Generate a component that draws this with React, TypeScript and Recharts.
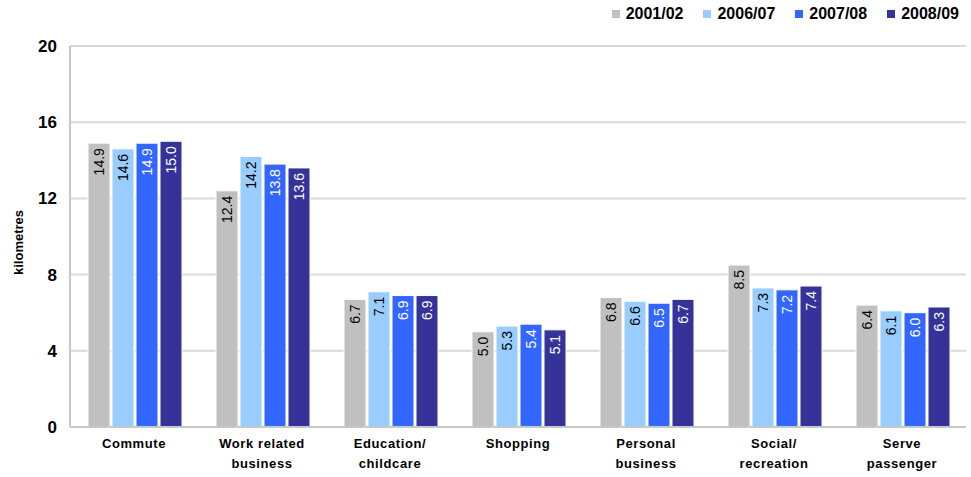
import React from "react";
import {
  Bar,
  BarChart,
  CartesianGrid,
  LabelList,
  Legend,
  XAxis,
  YAxis,
} from "recharts";

const categories = [
  "Commute",
  "Work related\nbusiness",
  "Education/\nchildcare",
  "Shopping",
  "Personal\nbusiness",
  "Social/\nrecreation",
  "Serve\npassenger",
];

const y2001 = [14.9, 12.4, 6.7, 5.0, 6.8, 8.5, 6.4];
const y2006 = [14.6, 14.2, 7.1, 5.3, 6.6, 7.3, 6.1];
const y2007 = [14.9, 13.8, 6.9, 5.4, 6.5, 7.2, 6.0];
const y2008 = [15.0, 13.6, 6.9, 5.1, 6.7, 7.4, 6.3];

const yTicks = [0, 4, 8, 12, 16, 20];

const series = [
  { key: "y2001", name: "2001/02", color: "#C0C0C0", text: "#000" },
  { key: "y2006", name: "2006/07", color: "#99CCFF", text: "#000" },
  { key: "y2007", name: "2007/08", color: "#3366FF", text: "#fff" },
  { key: "y2008", name: "2008/09", color: "#333399", text: "#fff" },
];

const data = categories.map((c, i) => ({
  category: c,
  y2001: y2001[i],
  y2006: y2006[i],
  y2007: y2007[i],
  y2008: y2008[i],
}));

const FONT = "'Liberation Sans', Arial, sans-serif";

// rotated value label just inside the top of the bar
const makeLabel = (fill: string) => (props: any) => {
  const { x, y, width, value } = props;
  const cx = x + width / 2;
  const cy = y + 5;
  return (
    <text
      x={cx}
      y={cy}
      transform={`rotate(-90, ${cx}, ${cy})`}
      textAnchor="end"
      dominantBaseline="central"
      fontSize={14}
      fontFamily={FONT}
      fill={fill}
    >
      {Number(value).toFixed(1)}
    </text>
  );
};

const CategoryTick = (props: any) => {
  const { x, y, payload } = props;
  const lines = String(payload.value).split("\n");
  return (
    <text
      x={x}
      y={y}
      textAnchor="middle"
      fontSize={13}
      fontWeight="bold"
      fontFamily={FONT}
      fill="#000"
      letterSpacing={0.6}
    >
      {lines.map((l, i) => (
        <tspan key={i} x={x} dy={i === 0 ? 13 : 20}>
          {l}
        </tspan>
      ))}
    </text>
  );
};

const LegendContent = () => (
  <div style={{ display: "flex", fontFamily: FONT }}>
    {series.map((s) => (
      <div
        key={s.key}
        style={{ display: "flex", alignItems: "center", marginLeft: 20 }}
      >
        <span
          style={{
            width: 8,
            height: 8,
            background: s.color,
            display: "inline-block",
            marginRight: 6,
          }}
        />
        <span style={{ fontSize: 16, fontWeight: "bold", color: "#000" }}>
          {s.name}
        </span>
      </div>
    ))}
  </div>
);

export default function App() {
  return (
    <div style={{ position: "absolute", left: 0, top: 0, background: "#fff" }}>
      <BarChart
        width={971}
        height={477}
        data={data}
        margin={{ top: 28, right: 5, bottom: 0, left: 0 }}
        barCategoryGap={18}
        barGap={2}
      >
        <CartesianGrid vertical={false} stroke="#D9D9D9" strokeWidth={2} />
        <XAxis
          dataKey="category"
          tick={<CategoryTick />}
          tickLine={false}
          axisLine={{ stroke: "#C8C8C8", strokeWidth: 2 }}
          interval={0}
          height={50}
        />
        <YAxis
          domain={[0, 20]}
          ticks={yTicks}
          width={70}
          tickSize={0}
          tickMargin={13}
          axisLine={{ stroke: "#C8C8C8", strokeWidth: 2 }}
          tick={{ fontSize: 17, fontWeight: "bold", fill: "#000", fontFamily: FONT }}
          label={(p: any) => {
            const vb = p.viewBox;
            const cx = 18;
            const cy = vb.y + vb.height / 2 + 6;
            return (
              <text
                x={cx}
                y={cy}
                transform={`rotate(-90, ${cx}, ${cy})`}
                textAnchor="middle"
                dominantBaseline="central"
                fontSize={13}
                fontWeight="bold"
                fontFamily={FONT}
                fill="#000"
              >
                kilometres
              </text>
            );
          }}
        />
        <Legend
          verticalAlign="top"
          align="right"
          content={<LegendContent />}
          wrapperStyle={{ position: "absolute", top: 5, right: 12, left: "auto", width: "auto" }}
        />
        {series.map((s) => (
          <Bar
            key={s.key}
            dataKey={s.key}
            name={s.name}
            fill={s.color}
            stroke="#fff"
            strokeWidth={1}
            isAnimationActive={false}
          >
            <LabelList dataKey={s.key} content={makeLabel(s.text)} />
          </Bar>
        ))}
      </BarChart>
    </div>
  );
}
